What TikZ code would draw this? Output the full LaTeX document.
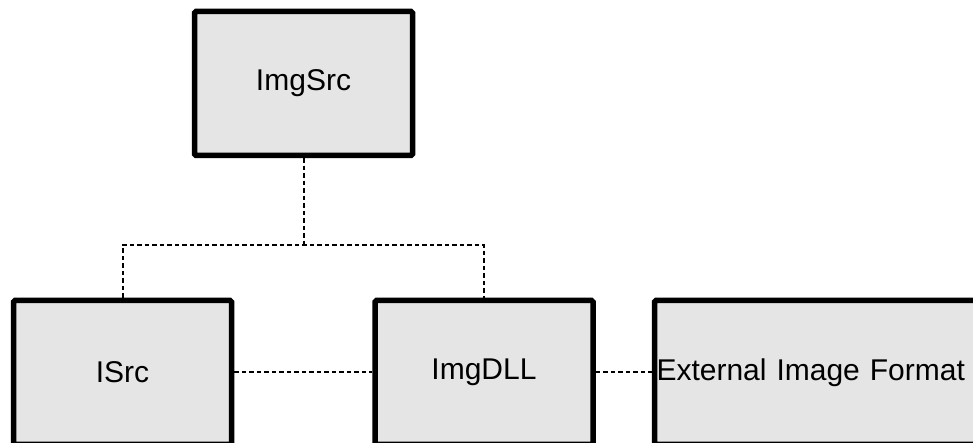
\documentclass[tikz,border=0pt]{standalone}
\usepackage{fontspec}
\setmainfont{Liberation Sans}
\usetikzlibrary{positioning}
\definecolor{boxgray}{RGB}{229,229,229}

\begin{document}
\begin{tikzpicture}[x=1pt,y=1pt, every node/.style={font=\fontsize{30}{36}\selectfont},
    module/.style={draw,line width=5.5pt,rounded corners=1.5pt,fill=boxgray,minimum width=218pt,minimum height=144pt,inner sep=0pt},
    link/.style={line width=2pt,dash pattern=on 4.5pt off 3pt}]
      \useasboundingbox (0,0) rectangle (973,443);
      \node[module] (imgsrc) at (303.5,359.5) {ImgSrc};
      \node[module] (isrc) at (122.5,70.5) {ISrc};
      \node[module,right=138pt of isrc] (imgdll) {ImgDLL};
      \node[module,text width=326pt,align=left,inner xsep=2pt,right=56pt of imgdll] (extfmt) {External Image Format};
      \coordinate (fork) at (303.5,198);
      \draw[link] (imgsrc) -- (fork);
      \draw[link] (isrc.north) |- (fork) -| (imgdll.north);
      \draw[link] (isrc) -- (imgdll);
      \draw[link] (imgdll) -- (extfmt);
    \end{tikzpicture}
\end{document}
